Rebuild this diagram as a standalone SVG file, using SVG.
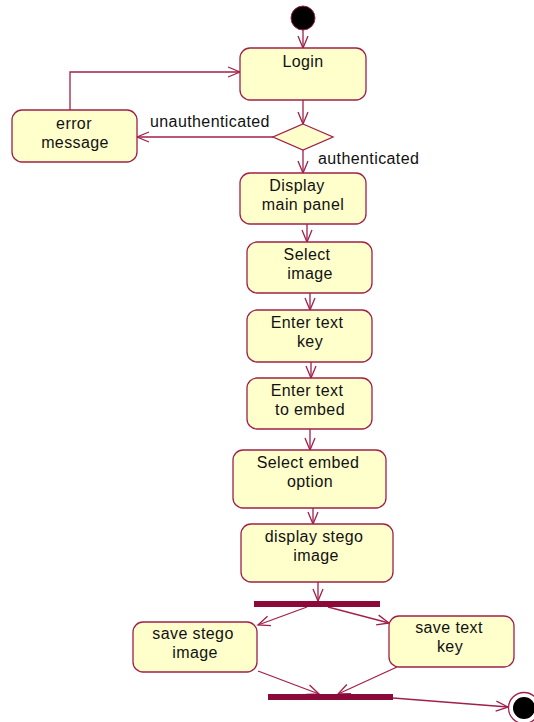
<svg xmlns="http://www.w3.org/2000/svg" width="534" height="722" viewBox="0 0 534 722">
  <style>
    .act { fill: #FFFFCC; stroke: #A0204A; stroke-width: 1.3; }
    .bar { fill: #8B0A3A; }
    .lbl { font-family: "Liberation Sans", Arial, sans-serif; font-size: 16px; letter-spacing: 0.4px; fill: #111; text-anchor: middle; }
    .edge { font-family: "Liberation Sans", Arial, sans-serif; font-size: 16px; letter-spacing: 0.4px; fill: #111; }
    .flow { fill: none; stroke: #A0204A; stroke-width: 1.3; marker-end: url(#open); }
  </style>
  <defs>
    <marker id="open" markerUnits="userSpaceOnUse" markerWidth="16" markerHeight="14" viewBox="-14 -7 16 14" refX="0" refY="0" orient="auto">
      <path d="M-12,-5 L0,0 L-12,5" fill="none" stroke="#A0204A" stroke-width="1.3"/>
    </marker>
  </defs>

  <rect width="534" height="722" fill="#FFFFFF"/>

  <!-- connectors -->
  <g id="connectors">
    <line class="flow" x1="303" y1="30" x2="303" y2="48"/>
    <line class="flow" x1="303" y1="100" x2="303" y2="124"/>
    <line class="flow" x1="273" y1="137" x2="137" y2="137"/>
    <polyline class="flow" points="70,110 70,72 240,72"/>
    <line class="flow" x1="303" y1="150" x2="303" y2="173"/>
    <line class="flow" x1="307" y1="224" x2="307" y2="242"/>
    <line class="flow" x1="310" y1="293" x2="310" y2="310"/>
    <line class="flow" x1="311" y1="362" x2="311" y2="378"/>
    <line class="flow" x1="310" y1="429" x2="310" y2="450"/>
    <line class="flow" x1="313" y1="508" x2="313" y2="524"/>
    <line class="flow" x1="318" y1="582" x2="318" y2="601"/>
    <line class="flow" x1="307" y1="607" x2="258" y2="625"/>
    <line class="flow" x1="328" y1="607" x2="389" y2="623"/>
    <line class="flow" x1="258" y1="671" x2="319" y2="694"/>
    <line class="flow" x1="397" y1="667" x2="338" y2="694"/>
    <line class="flow" x1="393" y1="698" x2="508" y2="707"/>
    <text class="edge" x="150" y="127">unauthenticated</text>
    <text class="edge" x="318" y="164">authenticated</text>
  </g>

  <!-- start -->
  <g id="start">
    <circle cx="303" cy="18" r="12" fill="#000000" stroke="#A0204A" stroke-width="1"/>
  </g>

  <g id="login">
    <rect class="act" x="240" y="48" width="126" height="52" rx="10"/>
    <text class="lbl" x="303" y="67">Login</text>
  </g>

  <g id="decision">
    <polygon points="303,124 333,137 303,150 273,137" fill="#FFFFCC" stroke="#A0204A" stroke-width="1.3"/>
  </g>

  <g id="error-message">
    <rect class="act" x="12" y="110" width="125" height="52" rx="10"/>
    <text class="lbl" x="74" y="129">error</text>
    <text class="lbl" x="75" y="148">message</text>
  </g>

  <g id="display-main-panel">
    <rect class="act" x="240" y="173" width="126" height="51" rx="10"/>
    <text class="lbl" x="297" y="191">Display</text>
    <text class="lbl" x="303" y="210">main panel</text>
  </g>

  <g id="select-image">
    <rect class="act" x="247" y="242" width="125" height="51" rx="10"/>
    <text class="lbl" x="307" y="260">Select</text>
    <text class="lbl" x="310" y="279">image</text>
  </g>

  <g id="enter-text-key">
    <rect class="act" x="247" y="310" width="125" height="52" rx="10"/>
    <text class="lbl" x="307" y="328">Enter text</text>
    <text class="lbl" x="310" y="347">key</text>
  </g>

  <g id="enter-text-to-embed">
    <rect class="act" x="247" y="378" width="125" height="51" rx="10"/>
    <text class="lbl" x="307" y="396">Enter text</text>
    <text class="lbl" x="310" y="415">to embed</text>
  </g>

  <g id="select-embed-option">
    <rect class="act" x="233" y="450" width="153" height="58" rx="10"/>
    <text class="lbl" x="308" y="468">Select embed</text>
    <text class="lbl" x="310" y="487">option</text>
  </g>

  <g id="display-stego-image">
    <rect class="act" x="241" y="524" width="152" height="58" rx="10"/>
    <text class="lbl" x="314" y="542">display stego</text>
    <text class="lbl" x="316" y="561">image</text>
  </g>

  <g id="fork">
    <rect class="bar" x="254" y="601" width="126" height="6"/>
  </g>

  <g id="save-stego-image">
    <rect class="act" x="133" y="622" width="124" height="50" rx="10"/>
    <text class="lbl" x="193" y="639">save stego</text>
    <text class="lbl" x="195" y="658">image</text>
  </g>

  <g id="save-text-key">
    <rect class="act" x="389" y="616" width="125" height="51" rx="10"/>
    <text class="lbl" x="449" y="633">save text</text>
    <text class="lbl" x="450" y="652">key</text>
  </g>

  <g id="join">
    <rect class="bar" x="268" y="694" width="125" height="6"/>
  </g>

  <!-- final state -->
  <g id="end">
    <circle cx="524" cy="708" r="15.5" fill="#FFFFFF" stroke="#A0204A" stroke-width="1.3"/>
    <circle cx="524" cy="708" r="11" fill="#000000"/>
  </g>
</svg>
